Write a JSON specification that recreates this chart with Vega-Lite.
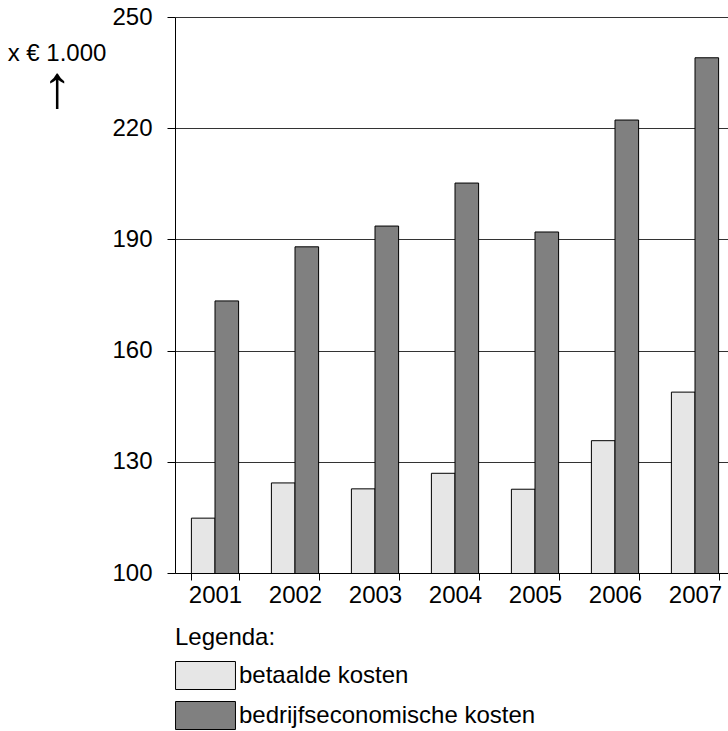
{
  "$schema": "https://vega.github.io/schema/vega-lite/v6.json",
  "autosize": "none",
  "width": 560,
  "height": 556,
  "padding": {"left": 175, "top": 17, "right": 0, "bottom": 158},
  "background": "white",
  "config": {
    "font": "Liberation Sans",
    "view": {"stroke": null}
  },
  "title": {
    "text": "x € 1.000",
    "subtitle": "↑",
    "anchor": "start",
    "align": "center",
    "frame": "group",
    "orient": "top",
    "dx": -118,
    "dy": 118,
    "fontSize": 24,
    "fontWeight": "normal",
    "color": "#000000",
    "subtitleFontSize": 60,
    "subtitleColor": "#000000",
    "subtitleFont": "Liberation Sans",
    "subtitlePadding": -6
  },
  "data": {
    "values": [
      {"jaar": "2001", "soort": "betaalde kosten", "waarde": 114.8},
      {"jaar": "2001", "soort": "bedrijfseconomische kosten", "waarde": 173.4},
      {"jaar": "2002", "soort": "betaalde kosten", "waarde": 124.3},
      {"jaar": "2002", "soort": "bedrijfseconomische kosten", "waarde": 188.0},
      {"jaar": "2003", "soort": "betaalde kosten", "waarde": 122.7},
      {"jaar": "2003", "soort": "bedrijfseconomische kosten", "waarde": 193.6},
      {"jaar": "2004", "soort": "betaalde kosten", "waarde": 126.9},
      {"jaar": "2004", "soort": "bedrijfseconomische kosten", "waarde": 205.2},
      {"jaar": "2005", "soort": "betaalde kosten", "waarde": 122.6},
      {"jaar": "2005", "soort": "bedrijfseconomische kosten", "waarde": 192.0},
      {"jaar": "2006", "soort": "betaalde kosten", "waarde": 135.7},
      {"jaar": "2006", "soort": "bedrijfseconomische kosten", "waarde": 222.2},
      {"jaar": "2007", "soort": "betaalde kosten", "waarde": 148.8},
      {"jaar": "2007", "soort": "bedrijfseconomische kosten", "waarde": 239.0}
    ]
  },
  "mark": {"type": "bar", "stroke": "#000000", "strokeWidth": 1, "clip": true},
  "encoding": {
    "x": {
      "field": "jaar",
      "type": "nominal",
      "scale": {"paddingInner": 0.41, "paddingOuter": 0.205},
      "axis": {
        "title": null,
        "labelAngle": 0,
        "labelFontSize": 24,
        "labelColor": "#000000",
        "labelPadding": 3,
        "tickBand": "extent",
        "tickSize": 7,
        "tickColor": "#000000",
        "domainColor": "#000000",
        "grid": false
      }
    },
    "xOffset": {
      "field": "soort",
      "type": "nominal",
      "sort": ["betaalde kosten", "bedrijfseconomische kosten"],
      "scale": {"paddingInner": 0, "paddingOuter": 0}
    },
    "y": {
      "field": "waarde",
      "type": "quantitative",
      "scale": {"domain": [100, 250], "nice": false, "zero": false},
      "axis": {
        "values": [100, 130, 160, 190, 220, 250],
        "labelFontSize": 24,
        "labelColor": "#000000",
        "labelPadding": 15,
        "tickSize": 8,
        "tickColor": "#000000",
        "domainColor": "#000000",
        "grid": true,
        "gridColor": "#333333",
        "gridOpacity": 1,
        "title": null
      }
    },
    "color": {
      "field": "soort",
      "type": "nominal",
      "sort": ["betaalde kosten", "bedrijfseconomische kosten"],
      "scale": {"range": ["#e6e6e6", "#808080"]},
      "legend": {
        "orient": "none",
        "legendX": 0,
        "legendY": 609,
        "direction": "vertical",
        "title": "Legenda:",
        "titleFontSize": 24,
        "titleFontWeight": "normal",
        "titleColor": "#000000",
        "titlePadding": 11,
        "labelFontSize": 24,
        "labelColor": "#000000",
        "labelLimit": 0,
        "labelOffset": 19,
        "symbolOffset": 16,
        "symbolType": "M-2.14,-1H2.14V1H-2.14Z",
        "symbolSize": 784,
        "symbolStrokeColor": "#000000",
        "symbolStrokeWidth": 1,
        "rowPadding": 7,
        "padding": 0
      }
    }
  }
}
